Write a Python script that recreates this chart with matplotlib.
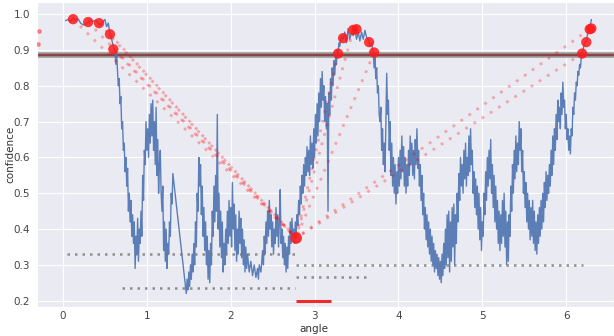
import numpy as np
import matplotlib
matplotlib.use("Agg")
import matplotlib.pyplot as plt
import seaborn as sns

sns.set_style("darkgrid")
plt.rcParams['font.family'] = ['DejaVu Sans']

# ---- blue confidence trace (angle, confidence) ----
angle_a = [0.03,0.06,0.09,0.12,0.15,0.18,0.21,0.24,0.27,0.30,0.33,0.36,0.39,0.42,0.45,0.48,0.50,
           0.52,0.54,0.56,0.58,0.60,0.62,0.63,0.64,0.65,0.66,0.67,0.68,0.69,0.70,0.71,0.72,0.73,0.74,0.75]
conf_a = [0.982,0.985,0.978,0.990,0.983,0.987,0.975,0.970,0.972,0.978,0.985,0.980,0.983,0.975,0.970,0.980,0.985,
          0.965,0.975,0.945,0.930,0.910,0.895,0.860,0.890,0.840,0.800,0.820,0.750,0.770,0.680,0.700,0.620,0.640,0.560,0.600]

angle_b = [0.76,0.77,0.78,0.79,0.80,0.81,0.82,0.83,0.84,0.85,0.86,0.87,0.88,0.89,0.90,0.91,0.92,0.93,0.94,0.95,
           0.96,0.97,0.98,0.99,1.00,1.01,1.02,1.03,1.04,1.05,1.06,1.07,1.08,1.09,1.10,1.11,1.12,1.13,1.14,1.15,
           1.16,1.17,1.18,1.19,1.20,1.21,1.22,1.23,1.24,1.25,1.26,1.27,1.28,1.29,1.30,1.31]
conf_b = [0.52,0.57,0.45,0.50,0.42,0.48,0.38,0.44,0.36,0.42,0.29,0.38,0.33,0.43,0.31,0.40,0.36,0.45,0.38,0.55,
          0.48,0.62,0.58,0.70,0.62,0.68,0.60,0.72,0.64,0.75,0.66,0.76,0.62,0.70,0.58,0.74,0.55,0.65,0.50,0.58,
          0.62,0.50,0.45,0.52,0.34,0.42,0.31,0.40,0.29,0.36,0.33,0.42,0.38,0.50,0.47,0.555]

angle_c = [1.47,1.48,1.49,1.50,1.51,1.52,1.53,1.54,1.55,1.56,1.57,1.58,1.59,1.60,1.61,1.62,1.63,1.64,1.65,1.66,
           1.67,1.68,1.69,1.70,1.71,1.72,1.73,1.74,1.75,1.76,1.77,1.78,1.79,1.80,1.81,1.82,1.83,1.84,1.85,1.86,
           1.87,1.88,1.89,1.90,1.91,1.92,1.93,1.94,1.95,1.96,1.97,1.98,1.99,2.00,2.01,2.02,2.03,2.04,2.05,2.06,
           2.07,2.08,2.09,2.10,2.11,2.12,2.13,2.14,2.15,2.16,2.17,2.18,2.19,2.20,2.22,2.24,2.26,2.28,2.30,2.32,
           2.33,2.34,2.36,2.38,2.39,2.40,2.41,2.42,2.43,2.44,2.45,2.46,2.47,2.48,2.49,2.50,2.51,2.52,2.53,2.54,
           2.55,2.56,2.57,2.58,2.59,2.60,2.61,2.62,2.63,2.64,2.65,2.66,2.67,2.68,2.69,2.70,2.71,2.72,2.73,2.74]
conf_c = [0.22,0.26,0.23,0.28,0.24,0.30,0.26,0.33,0.28,0.36,0.30,0.42,0.35,0.50,0.45,0.60,0.52,0.58,0.44,0.52,
          0.38,0.46,0.34,0.42,0.30,0.38,0.26,0.34,0.25,0.36,0.30,0.45,0.38,0.52,0.42,0.55,0.45,0.72,0.40,0.50,
          0.35,0.45,0.32,0.42,0.28,0.36,0.30,0.40,0.33,0.45,0.36,0.48,0.38,0.46,0.35,0.53,0.40,0.47,0.34,0.44,
          0.31,0.40,0.33,0.45,0.36,0.43,0.32,0.40,0.30,0.37,0.28,0.35,0.29,0.33,0.28,0.31,0.27,0.30,0.265,0.29,
          0.26,0.30,0.28,0.34,0.30,0.38,0.33,0.42,0.36,0.45,0.38,0.48,0.40,0.44,0.35,0.42,0.33,0.40,0.36,0.46,
          0.38,0.44,0.35,0.42,0.51,0.36,0.40,0.32,0.38,0.30,0.36,0.28,0.35,0.29,0.38,0.33,0.42,0.36,0.43,0.38]

angle_d = [2.75,2.76,2.77,2.78,2.79,2.80,2.81,2.82,2.83,2.84,2.85,2.86,2.87,2.88,2.89,2.90,2.91,2.92,2.93,2.94,
           2.95,2.96,2.97,2.98,2.99,3.00,3.01,3.02,3.03,3.04,3.05,3.06,3.07,3.08,3.09,3.10,3.11,3.12,3.13,3.14,
           3.15,3.16,3.17,3.18,3.19,3.20,3.21,3.22,3.23,3.24,3.25,3.26,3.27,3.28,3.29,3.30,3.32,3.34,3.36,3.38,
           3.40,3.42,3.44,3.46,3.48,3.50,3.52,3.54,3.56,3.58,3.60,3.62,3.64,3.66,3.68,3.70,3.71,3.72,3.73,3.74,
           3.75,3.76,3.77,3.78,3.79,3.80,3.81,3.82,3.83,3.84,3.85,3.86,3.87,3.88,3.89,3.90,3.91,3.92,3.93,3.94,
           3.95,3.96,3.97,3.98,3.99,4.00]
conf_d = [0.40,0.36,0.42,0.38,0.44,0.41,0.48,0.44,0.52,0.47,0.55,0.50,0.58,0.52,0.60,0.55,0.63,0.56,0.62,0.55,
          0.66,0.58,0.64,0.57,0.68,0.60,0.72,0.64,0.75,0.66,0.78,0.70,0.82,0.74,0.84,0.76,0.80,0.70,0.77,0.68,
          0.75,0.45,0.78,0.72,0.82,0.76,0.85,0.80,0.87,0.83,0.88,0.86,0.90,0.89,0.92,0.91,0.94,0.93,0.95,0.92,
          0.96,0.93,0.95,0.94,0.96,0.93,0.95,0.925,0.95,0.93,0.955,0.935,0.93,0.91,0.92,0.89,0.85,0.88,0.82,0.85,
          0.78,0.80,0.72,0.70,0.74,0.62,0.68,0.58,0.64,0.56,0.70,0.835,0.72,0.76,0.62,0.70,0.55,0.64,0.52,0.60,
          0.50,0.58,0.47,0.56,0.50,0.60]

angle_e = [4.01,4.02,4.03,4.04,4.05,4.06,4.07,4.08,4.09,4.10,4.11,4.12,4.13,4.14,4.15,4.16,4.17,4.18,4.19,4.20,
           4.21,4.22,4.23,4.24,4.25,4.26,4.27,4.28,4.29,4.30,4.31,4.32,4.33,4.34,4.35,4.36,4.37,4.38,4.39,4.40,
           4.41,4.42,4.43,4.44,4.45,4.46,4.47,4.48,4.49,4.50,4.51,4.52,4.53,4.54,4.55,4.56,4.57,4.58,4.59,4.60,
           4.61,4.62,4.63,4.64,4.65,4.66,4.67,4.68,4.69,4.70,4.71,4.72,4.73,4.74,4.75,4.76,4.77,4.78,4.79,4.80,
           4.81,4.82,4.83,4.84,4.85,4.86,4.87,4.88,4.89,4.90,4.91,4.92,4.93,4.94,4.95,4.96,4.97,4.98,4.99,5.00]
conf_e = [0.52,0.62,0.54,0.66,0.56,0.63,0.52,0.60,0.50,0.58,0.52,0.62,0.55,0.66,0.58,0.64,0.55,0.62,0.54,0.65,
          0.58,0.68,0.57,0.62,0.52,0.58,0.48,0.55,0.44,0.50,0.40,0.46,0.37,0.44,0.35,0.42,0.33,0.40,0.31,0.38,
          0.30,0.36,0.28,0.34,0.29,0.33,0.27,0.32,0.26,0.31,0.25,0.33,0.27,0.36,0.29,0.40,0.30,0.44,0.32,0.45,
          0.28,0.42,0.31,0.46,0.35,0.47,0.30,0.44,0.36,0.50,0.42,0.555,0.48,0.60,0.52,0.58,0.50,0.62,0.54,0.64,
          0.52,0.60,0.55,0.66,0.56,0.68,0.58,0.62,0.50,0.56,0.46,0.54,0.44,0.52,0.40,0.50,0.37,0.46,0.34,0.42]

angle_f = [5.01,5.02,5.03,5.04,5.05,5.06,5.07,5.08,5.09,5.10,5.11,5.12,5.13,5.14,5.15,5.16,5.17,5.18,5.19,5.20,
           5.21,5.22,5.23,5.24,5.25,5.26,5.27,5.28,5.29,5.30,5.31,5.32,5.33,5.34,5.35,5.36,5.37,5.38,5.39,5.40,
           5.41,5.42,5.43,5.44,5.45,5.46,5.47,5.48,5.49,5.50,5.51,5.52,5.53,5.54,5.55,5.56,5.57,5.58,5.59,5.60,
           5.61,5.62,5.63,5.64,5.65,5.66,5.67,5.68,5.69,5.70,5.71,5.72,5.73,5.74,5.75,5.76,5.77,5.78,5.79,5.80,
           5.81,5.82,5.83,5.84,5.85,5.86,5.87,5.88,5.89,5.90,5.91,5.92,5.93,5.94,5.95,5.96,5.97,5.98,5.99,6.00,
           6.01,6.02,6.03,6.04,6.05,6.06,6.07,6.08,6.09,6.10,6.11,6.12,6.13,6.14,6.15,6.16,6.17,6.18,6.19,6.20,
           6.22,6.24,6.26,6.28,6.30]
conf_f = [0.38,0.50,0.44,0.56,0.48,0.60,0.52,0.62,0.54,0.65,0.50,0.58,0.46,0.55,0.42,0.52,0.40,0.48,0.36,0.45,
          0.34,0.44,0.36,0.48,0.38,0.50,0.35,0.45,0.30,0.42,0.31,0.44,0.38,0.52,0.45,0.58,0.50,0.62,0.54,0.66,
          0.56,0.64,0.58,0.70,0.62,0.68,0.56,0.62,0.50,0.56,0.46,0.53,0.42,0.50,0.40,0.48,0.37,0.46,0.38,0.48,
          0.36,0.45,0.34,0.42,0.33,0.44,0.36,0.46,0.38,0.48,0.40,0.50,0.42,0.53,0.46,0.56,0.48,0.55,0.50,0.58,
          0.52,0.62,0.55,0.66,0.58,0.68,0.62,0.72,0.65,0.76,0.70,0.74,0.68,0.78,0.72,0.81,0.74,0.76,0.68,0.72,
          0.65,0.68,0.62,0.66,0.61,0.68,0.66,0.74,0.72,0.78,0.76,0.81,0.80,0.84,0.83,0.86,0.85,0.88,0.89,0.90,
          0.92,0.925,0.95,0.96,0.985]

# ---- threshold and markers ----
threshold = 0.885
peak_angles = [0.12, 0.30, 0.43, 0.56, 0.60,
               3.28, 3.34, 3.46, 3.50, 3.65, 3.71,
               6.19, 6.24, 6.28, 6.30]
peak_conf = [0.986, 0.978, 0.975, 0.944, 0.902,
             0.890, 0.933, 0.956, 0.958, 0.922, 0.893,
             0.890, 0.922, 0.958, 0.960]
min_angle = 2.78
min_conf = 0.375
# peaks linked to the minimum by dotted lines
link_angles = [0.12, 0.30, 0.43, 0.56, 0.60, 3.28, 3.46, 3.71, 6.19, 6.28]
link_conf = [0.986, 0.978, 0.975, 0.944, 0.902, 0.890, 0.956, 0.893, 0.890, 0.958]
stray_angles = [-0.29, -0.30]
stray_conf = [0.952, 0.918]

# gray dotted level segments: (y, x_start, x_end)
level_y = [0.33, 0.30, 0.265, 0.235]
level_x0 = [0.05, 2.78, 2.78, 0.70]
level_x1 = [2.80, 6.20, 3.62, 2.77]

# red range bar
range_y = 0.20
range_x0 = 2.78
range_x1 = 3.20

angle = angle_a + angle_b + angle_c + angle_d + angle_e + angle_f
conf = conf_a + conf_b + conf_c + conf_d + conf_e + conf_f

fig = plt.figure(figsize=(6.14, 3.36), dpi=100)
ax = fig.add_axes([37/614, 29/336, 1 - 37/614, 305/336])

ax.plot(angle, conf, color='#4c72b0', lw=1.0, alpha=0.9, zorder=3)

ax.axhline(threshold, color='#8a8a8a', lw=4.0, alpha=0.85, zorder=2)
ax.axhline(threshold, color='#8b2525', lw=1.6, alpha=0.75, zorder=2)

for px, py in zip(link_angles, link_conf):
    ax.plot([px, min_angle], [py, min_conf], color='red', alpha=0.3,
            lw=2.0, linestyle=(0, (1, 2.5)), zorder=4)
ax.scatter(stray_angles, stray_conf, color='red', alpha=0.35, s=6, zorder=4, clip_on=True)

for yv, a0, a1 in zip(level_y, level_x0, level_x1):
    ax.plot([a0, a1], [yv, yv], color='#777777', alpha=0.8, lw=1.8,
            linestyle=(0, (1, 2.0)), zorder=4)

ax.plot([range_x0, range_x1], [range_y, range_y], color='#ee2a2a', lw=2.2, zorder=4,
        solid_capstyle='butt')

ax.scatter(peak_angles, peak_conf, color='#ff1a1a', s=55, alpha=0.85, zorder=5, edgecolors='none')
ax.scatter([min_angle], [min_conf], color='#ff1a1a', s=70, alpha=0.9, zorder=5, edgecolors='none')

ax.set_xlim(-0.31, 6.57)
ax.set_ylim(0.1824, 1.034)
ax.set_xticks([0, 1, 2, 3, 4, 5, 6])
ax.set_yticks([0.2, 0.3, 0.4, 0.5, 0.6, 0.7, 0.8, 0.9, 1.0])
ax.tick_params(labelsize=7.5, colors='#444444', length=0)
ax.tick_params(axis='y', pad=5)
ax.tick_params(axis='x', pad=3)
ax.set_xlabel('angle', fontsize=7.5, color='#333333')
ax.set_ylabel('confidence', fontsize=7.5, color='#333333')
ax.xaxis.set_label_coords((314 - 37) / 577, (307 - 324) / 305)
ax.yaxis.set_label_coords((15 - 37) / 577, 0.5)

fig.savefig('out.png', dpi=100)
